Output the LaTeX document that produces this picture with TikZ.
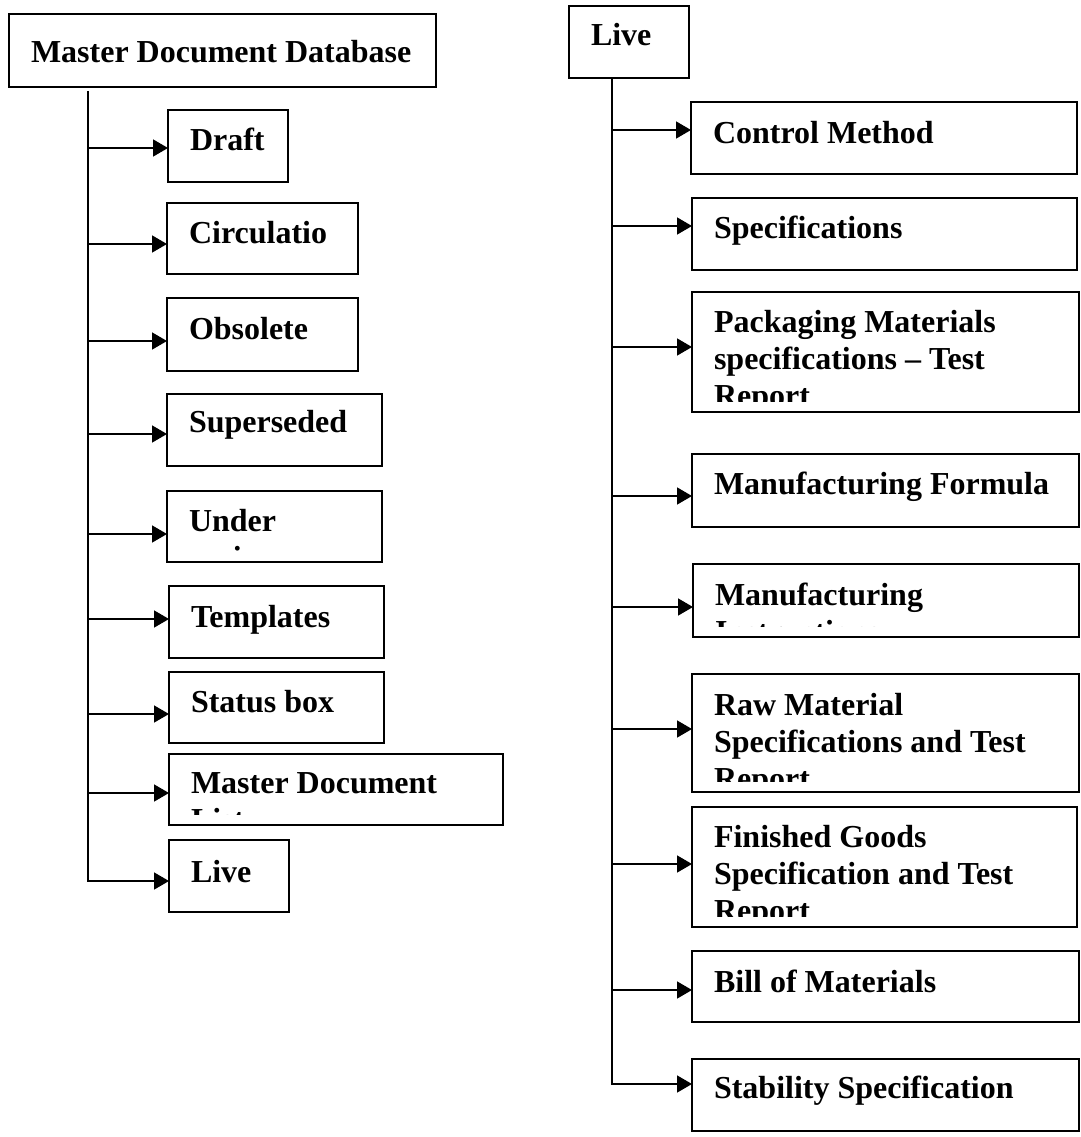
\documentclass[tikz,border=0pt]{standalone}
\usepackage{fontspec}
\setmainfont{Liberation Serif}
\usetikzlibrary{arrows.meta}
\tikzset{
  box/.style={draw=black, line width=1.6pt, inner sep=0pt, outer sep=0pt},
  conn/.style={draw=black, line width=1.6pt},
  arr/.style={conn, -{Triangle[length=15pt,width=17pt]}},
  lbl/.style={anchor=base west, inner sep=0pt, outer sep=0pt, font=\bfseries\fontsize{32}{37}\selectfont}
}
% box with clipped text: name, left, top, right, bottom, baseline offset, text
\newcommand{\mybox}[7]{%
  \node[box, minimum width=#4-#2, minimum height=#5-#3] (#1) at ({(#2+#4)/2},{(#3+#5)/2}) {};
  \begin{scope}
    \clip (#2,#3) rectangle (#4,#5-11);
    \node[lbl] (#1-t) at (#2+22,#3+#6) {\parbox[t]{600pt}{\raggedright #7}};
  \end{scope}
}
\begin{document}
\begin{tikzpicture}[x=1pt,y=-1pt]
\useasboundingbox (0,0) rectangle (1080,1137);
\fill[white] (0,0) rectangle (1080,1137);

% ---------- left tree ----------
\mybox{mdd}{9}{14}{436}{87}{49}{Master Document Database}
\mybox{draft}{168}{110}{288}{182}{40}{Draft}
\mybox{circ}{167}{203}{358}{274}{40}{Circulatio\\n}
\mybox{obs}{167}{298}{358}{371}{41}{Obsolete}
\mybox{sup}{167}{394}{382}{466}{38}{Superseded}
\mybox{under}{167}{491}{382}{562}{40}{Under\\review}
\mybox{tmpl}{169}{586}{384}{658}{41}{Templates}
\mybox{status}{169}{672}{384}{743}{40}{Status box}
\mybox{mdl}{169}{754}{503}{825}{39}{Master Document\\List}
\mybox{liveL}{169}{840}{289}{912}{42}{Live}

\coordinate (Ltop) at (88,91);
\coordinate (L1) at (88,148);
\coordinate (L2) at (88,244);
\coordinate (L3) at (88,341);
\coordinate (L4) at (88,434);
\coordinate (L5) at (88,534);
\coordinate (L6) at (88,619);
\coordinate (L7) at (88,714);
\coordinate (L8) at (88,793);
\coordinate (L9) at (88,881);
\draw[conn] (Ltop) -- (L9);
\draw[arr] (L1) -- (L1 -| draft.west);
\draw[arr] (L2) -- (L2 -| circ.west);
\draw[arr] (L3) -- (L3 -| obs.west);
\draw[arr] (L4) -- (L4 -| sup.west);
\draw[arr] (L5) -- (L5 -| under.west);
\draw[arr] (L6) -- (L6 -| tmpl.west);
\draw[arr] (L7) -- (L7 -| status.west);
\draw[arr] (L8) -- (L8 -| mdl.west);
\draw[arr] ([xshift=-0.8pt]L9) -- (L9 -| liveL.west);

% ---------- right tree ----------
\mybox{liveR}{569}{6}{689}{78}{40}{Live}
\mybox{ctrl}{691}{102}{1077}{174}{41}{Control Method}
\mybox{spec}{692}{198}{1077}{270}{40}{Specifications}
\mybox{pack}{692}{292}{1079}{412}{40}{Packaging Materials\\specifications -- Test\\Report}
\mybox{mform}{692}{454}{1079}{527}{40}{Manufacturing Formula}
\mybox{minst}{693}{564}{1079}{637}{41}{Manufacturing\\Instructions}
\mybox{raw}{692}{674}{1079}{792}{41}{Raw Material\\Specifications and Test\\Report}
\mybox{fin}{692}{807}{1077}{927}{40}{Finished Goods\\Specification and Test\\Report}
\mybox{bom}{692}{951}{1079}{1022}{41}{Bill of Materials}
\mybox{stab}{692}{1059}{1079}{1131}{39}{Stability Specification}

\coordinate (Rtop) at (612,78);
\coordinate (R1) at (612,130);
\coordinate (R2) at (612,226);
\coordinate (R3) at (612,347);
\coordinate (R4) at (612,496);
\coordinate (R5) at (612,607);
\coordinate (R6) at (612,729);
\coordinate (R7) at (612,864);
\coordinate (R8) at (612,990);
\coordinate (R9) at (612,1084);
\draw[conn] (Rtop) -- (R9);
\draw[arr] (R1) -- (R1 -| ctrl.west);
\draw[arr] (R2) -- (R2 -| spec.west);
\draw[arr] (R3) -- (R3 -| pack.west);
\draw[arr] (R4) -- (R4 -| mform.west);
\draw[arr] (R5) -- (R5 -| minst.west);
\draw[arr] (R6) -- (R6 -| raw.west);
\draw[arr] (R7) -- (R7 -| fin.west);
\draw[arr] (R8) -- (R8 -| bom.west);
\draw[arr] ([xshift=-0.8pt]R9) -- (R9 -| stab.west);
\end{tikzpicture}
\end{document}
